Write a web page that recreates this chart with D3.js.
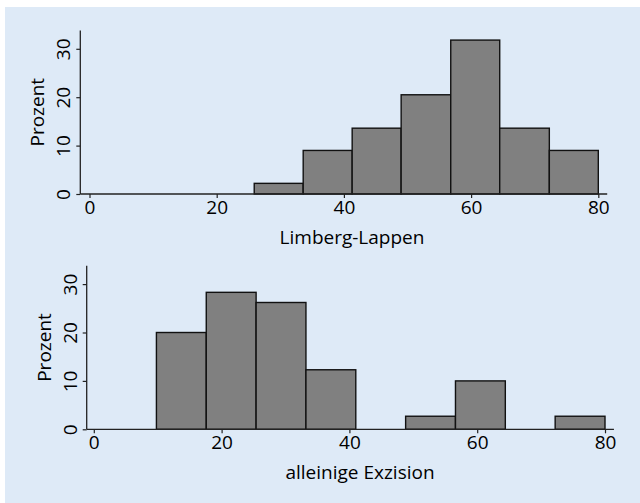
<!DOCTYPE html>
<html>
<head>
<meta charset="utf-8">
<script src="https://cdn.jsdelivr.net/npm/d3@7"></script>
<style>
  body { margin: 0; background: #fff; }
  svg text { font-family: "Open Sans", "Noto Sans", sans-serif; fill: #000; }
</style>
</head>
<body>
<div id="chart"></div>
<script>
// histogram bins (edges) and percentages
var limbergEdges = [25.9, 33.6, 41.3, 49.0, 56.8, 64.5, 72.3, 80];
var limbergPercent = [2.2, 9.0, 13.6, 20.5, 31.8, 13.6, 9.0];

var exzisionEdges = [9.8, 17.6, 25.4, 33.2, 41.0, 48.8, 56.6, 64.4, 72.2, 80];
var exzisionPercent = [20.0, 28.3, 26.2, 12.3, 0, 2.7, 10.0, 0, 2.7];

var xTicks = [0, 20, 40, 60, 80];
var yTicks = [0, 10, 20, 30];
var yLabel = "Prozent";

var width = 640, height = 503;

var svg = d3.select("#chart").append("svg")
    .attr("width", width)
    .attr("height", height);

svg.append("rect")
    .attr("x", 5).attr("y", 7)
    .attr("width", width - 5).attr("height", height - 7)
    .attr("fill", "#deeaf7");

var panels = [
    { edges: limbergEdges, values: limbergPercent, title: "Limberg-Lappen",
      axisX: 80.3, x0: 89.5, x1: 598.3, base: 194, titleX: 352, titleY: 244 },
    { edges: exzisionEdges, values: exzisionPercent, title: "alleinige Exzision",
      axisX: 86.7, x0: 93.8, x1: 605, base: 429.3, titleX: 360, titleY: 479 }
];

panels.forEach(function(p) {
    var x = d3.scaleLinear().domain([0, 80]).range([p.x0, p.x1]);
    var y = d3.scaleLinear().domain([0, 30]).range([p.base, p.base - 145.2]);

    var g = svg.append("g");

    var bins = p.values.map(function(v, i) {
        return { x0: p.edges[i], x1: p.edges[i + 1], value: v };
    }).filter(function(d) { return d.value > 0; });

    g.selectAll(".bar")
        .data(bins).enter().append("rect")
        .attr("class", "bar")
        .attr("x", function(d) { return x(d.x0); })
        .attr("width", function(d) { return x(d.x1) - x(d.x0); })
        .attr("y", function(d) { return y(d.value); })
        .attr("height", function(d) { return y(0) - y(d.value); })
        .attr("fill", "#808080")
        .attr("stroke", "#111")
        .attr("stroke-width", 1.4);

    // x axis
    var xAxis = g.append("g")
        .attr("transform", "translate(0," + y(0) + ")")
        .call(d3.axisBottom(x).tickValues(xTicks).tickSize(4).tickPadding(2));
    xAxis.select(".domain").remove();
    xAxis.selectAll("line").attr("stroke", "#222").attr("stroke-width", 1.2);
    xAxis.selectAll("text")
        .style("font-size", "19px")
        .attr("fill", "#000");

    g.append("line")
        .attr("x1", p.axisX).attr("x2", x(81.4))
        .attr("y1", y(0)).attr("y2", y(0))
        .attr("stroke", "#222").attr("stroke-width", 1.3);

    // y axis
    var yAxis = g.append("g")
        .attr("transform", "translate(" + p.axisX + ",0)")
        .call(d3.axisLeft(y).tickValues(yTicks).tickSize(4).tickPadding(3));
    yAxis.select(".domain").remove();
    yAxis.selectAll("line").attr("stroke", "#222").attr("stroke-width", 1.2);
    yAxis.selectAll("text")
        .style("font-size", "19px")
        .attr("fill", "#000")
        .attr("text-anchor", "middle")
        .attr("x", 0).attr("dy", 0)
        .attr("transform", "translate(-10,0) rotate(-90)");

    g.append("line")
        .attr("x1", p.axisX).attr("x2", p.axisX)
        .attr("y1", y(0)).attr("y2", y(33.8))
        .attr("stroke", "#222").attr("stroke-width", 1.3);

    g.append("text")
        .attr("x", p.titleX).attr("y", p.titleY)
        .attr("text-anchor", "middle")
        .style("font-size", "19px")
        .text(p.title);

    g.append("text")
        .attr("transform", "translate(" + (p.axisX - 36) + "," + ((y(0) + y(33.8)) / 2) + ") rotate(-90)")
        .attr("text-anchor", "middle")
        .style("font-size", "19px")
        .text(yLabel);
});
</script>
</body>
</html>
